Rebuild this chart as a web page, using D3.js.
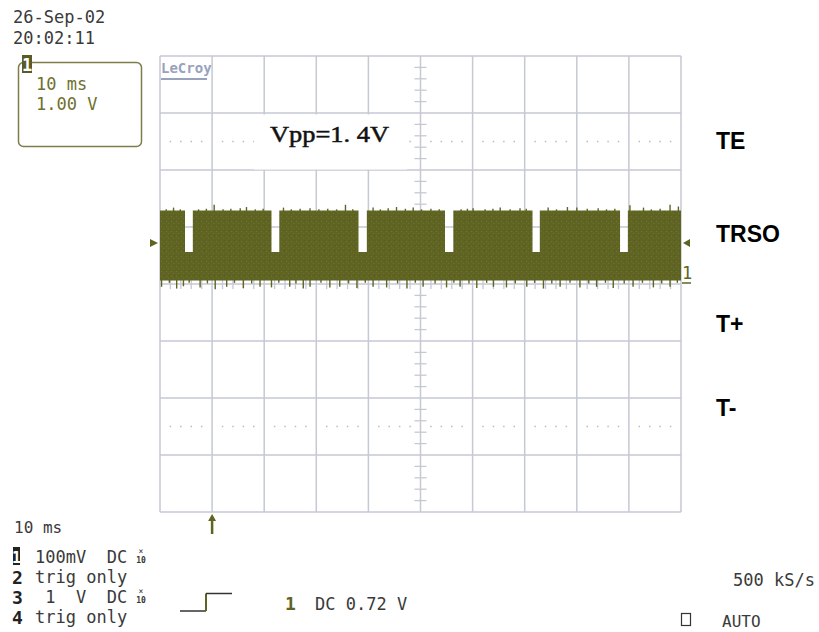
<!DOCTYPE html>
<html>
<head>
<meta charset="utf-8">
<script src="https://cdn.jsdelivr.net/npm/d3@7"></script>
<style>
  html, body { margin: 0; padding: 0; background: #fff; }
  svg { display: block; }
</style>
</head>
<body>
<svg id="chart" width="819" height="632"></svg>
<script>
// ---------- data ----------
const timeDivs = [0, 10, 20, 30, 40, 50, 60, 70, 80, 90, 100];   // ms
const voltDivs = [-4, -3, -2, -1, 0, 1, 2, 3, 4];                 // V
const dottedLevels = [2.5, -2.5];
const gapStarts = [4.8, 21.4, 38.1, 54.7, 71.5, 88.3];            // ms
const gapEnds   = [6.3, 22.9, 39.7, 56.3, 72.9, 89.8];
const highLevel = 1.29;   // V
const gapLevel  = 0.56;
const lowLevel  = 0.06;
const triggerLevel = 0.72;
const triggerTime = 10;
const topSpikes = [[2.6,1.34],[10.4,1.39],[15.4,1.33],[16.6,1.35],[23.7,1.34],[28.8,1.33],
  [35.6,1.39],[40.9,1.34],[43.8,1.33],[45.4,1.35],[48.6,1.34],[60.1,1.33],[65.3,1.34],
  [69.1,1.33],[74.5,1.34],[78.2,1.35],[80.0,1.34],[84.1,1.33],[90.2,1.38],[92.8,1.34],
  [97.9,1.39],[99.5,1.36],
  [1.2,1.31],[3.9,1.31],[7.4,1.31],[8.9,1.32],[12.1,1.31],[13.6,1.32],[18.3,1.31],[19.8,1.32],
  [25.2,1.31],[26.9,1.32],[30.5,1.31],[32.2,1.32],[33.9,1.31],[37.0,1.31],[42.3,1.31],[47.1,1.32],
  [50.2,1.31],[52.0,1.32],[53.6,1.31],[57.8,1.31],[59.0,1.32],[62.4,1.31],[63.9,1.32],[67.2,1.31],
  [70.3,1.32],[76.1,1.31],[82.0,1.32],[85.7,1.31],[87.3,1.32],[94.3,1.31],[96.0,1.32]];
const bottomSpikes = [[0.3,-0.05],[3.2,-0.08],[4.5,-0.04],[7.7,-0.06],[10.6,-0.09],[12.8,-0.05],
  [16.0,-0.07],[19.2,-0.05],[21.4,-0.06],[24.9,-0.05],[27.5,-0.08],[28.8,-0.05],[32.6,-0.06],
  [34.5,-0.05],[37.8,-0.07],[40.9,-0.05],[43.5,-0.06],[47.4,-0.08],[50.5,-0.05],[55.0,-0.06],
  [57.6,-0.05],[60.8,-0.07],[64.0,-0.05],[66.5,-0.06],[70.4,-0.05],[73.6,-0.08],[76.8,-0.05],
  [80.6,-0.06],[83.8,-0.05],[87.0,-0.07],[90.8,-0.05],[94.7,-0.06],[97.9,-0.05],
  [1.8,0.02],[5.6,0.02],[9.1,0.01],[14.3,0.02],[17.6,0.01],[22.8,0.02],[26.1,0.01],[30.9,0.02],
  [36.2,0.01],[39.4,0.02],[45.6,0.01],[49.0,0.02],[52.8,0.01],[56.4,0.02],[59.3,0.01],[62.7,0.02],
  [68.2,0.01],[71.9,0.02],[75.2,0.01],[78.7,0.02],[82.3,0.01],[85.5,0.02],[89.1,0.01],[92.6,0.02],
  [96.3,0.01],[99.3,0.02]];
const rightLabels = [["TE", 149], ["TRSO", 242], ["T+", 332], ["T-", 416]];
const headerLines = ["26-Sep-02", "20:02:11"];
const boxLines = ["10 ms", "1.00 V"];
const channelLines = [
  ["1", "100mV  DC"], ["2", "trig only"], ["3", " 1  V  DC"], ["4", "trig only"]
];

// ---------- setup ----------
const svg = d3.select("#chart");
const pLeft = 160, pRight = 681, pTop = 56, pBottom = 512;
const x = d3.scaleLinear().domain([0, 100]).range([pLeft, pRight]);
const y = d3.scaleLinear().domain([-4, 4]).range([pBottom, pTop]);
const gridCol = "#c4c9d3";
const olive = "#5f6423";
const mono = "DejaVu Sans Mono, monospace";

svg.append("rect").attr("width", 819).attr("height", 632).attr("fill", "#fff");

// speckle texture for the trace
const defs = svg.append("defs");
const pat = defs.append("pattern").attr("id", "speckle").attr("patternUnits", "userSpaceOnUse")
  .attr("width", 5).attr("height", 5);
pat.append("rect").attr("width", 5).attr("height", 5).attr("fill", olive);
pat.append("rect").attr("x", 1).attr("y", 1).attr("width", 1).attr("height", 1).attr("fill", "#6e7433");
pat.append("rect").attr("x", 3).attr("y", 3).attr("width", 1).attr("height", 1).attr("fill", "#6a7030");
pat.append("rect").attr("x", 4).attr("y", 0).attr("width", 1).attr("height", 1).attr("fill", "#565b1e");

// grid
const grid = svg.append("g");
grid.selectAll("line.v").data(timeDivs).join("line")
  .attr("x1", d => x(d)).attr("x2", d => x(d)).attr("y1", pTop).attr("y2", pBottom)
  .attr("stroke", gridCol).attr("stroke-width", 1.5);
grid.selectAll("line.h").data(voltDivs).join("line")
  .attr("y1", d => y(d)).attr("y2", d => y(d)).attr("x1", pLeft).attr("x2", pRight)
  .attr("stroke", gridCol).attr("stroke-width", 1.5);

// center minor ticks
const minorT = d3.range(0, 100.01, 2).filter(t => t % 10 !== 0);
const minorV = d3.range(-4, 4.01, 0.2).filter(v => Math.abs(v - Math.round(v)) > 0.01);
grid.selectAll("line.mt").data(minorT).join("line")
  .attr("x1", d => x(d)).attr("x2", d => x(d)).attr("y1", y(0) - 5).attr("y2", y(0) + 5)
  .attr("stroke", gridCol).attr("stroke-width", 1.3);
grid.selectAll("line.mv").data(minorV).join("line")
  .attr("y1", d => y(d)).attr("y2", d => y(d)).attr("x1", x(50) - 6).attr("x2", x(50) + 6)
  .attr("stroke", gridCol).attr("stroke-width", 1.3);

// dotted rows
dottedLevels.forEach(lv => {
  grid.append("g").selectAll("rect").data(minorT).join("rect")
    .attr("x", d => x(d) - 0.75).attr("y", y(lv) - 0.75).attr("width", 1.5).attr("height", 1.5)
    .attr("fill", "#b8bcc6");
});

// LeCroy logo
svg.append("text").attr("x", 161).attr("y", 73).attr("font-family", mono)
  .attr("font-size", 14).attr("font-weight", "bold").attr("fill", "#98a2bc").text("LeCroy");
svg.append("line").attr("x1", 161).attr("x2", 207).attr("y1", 79).attr("y2", 79)
  .attr("stroke", "#98a2bc").attr("stroke-width", 2);

// Vpp label
svg.append("rect").attr("x", 254).attr("y", 114.5).attr("width", 153).attr("height", 55).attr("fill", "#fff");
svg.append("text").attr("x", 270).attr("y", 142).attr("font-family", "Liberation Serif, serif")
  .attr("font-size", 23).attr("fill", "#111").attr("stroke", "#111").attr("stroke-width", 0.5)
  .attr("textLength", 119).attr("lengthAdjust", "spacingAndGlyphs").text("Vpp=1. 4V");

// trace band
const upper = [{t: 0, v: highLevel}];
gapStarts.forEach((gs, i) => {
  upper.push({t: gs, v: highLevel}, {t: gs, v: gapLevel}, {t: gapEnds[i], v: gapLevel}, {t: gapEnds[i], v: highLevel});
});
upper.push({t: 100, v: highLevel});
const area = d3.area().x(d => x(d.t)).y0(y(lowLevel)).y1(d => y(d.v));
svg.append("path").attr("d", area(upper)).attr("fill", "url(#speckle)");
svg.append("g").selectAll("line").data(topSpikes).join("line")
  .attr("x1", d => x(d[0])).attr("x2", d => x(d[0])).attr("y1", y(highLevel) + 1).attr("y2", d => y(d[1]))
  .attr("stroke", olive).attr("stroke-width", 1.4);
svg.append("g").selectAll("line").data(bottomSpikes).join("line")
  .attr("x1", d => x(d[0])).attr("x2", d => x(d[0])).attr("y1", y(lowLevel) - 1).attr("y2", d => y(d[1]))
  .attr("stroke", olive).attr("stroke-width", 1.4);

// trigger level markers
const ty = y(triggerLevel);
svg.append("path").attr("d", `M150,${ty - 4}L158,${ty}L150,${ty + 4}Z`).attr("fill", olive);
svg.append("path").attr("d", `M690,${ty - 4}L683,${ty}L690,${ty + 4}Z`).attr("fill", olive);
// ground marker
svg.append("text").attr("x", 682).attr("y", 279).attr("font-family", mono).attr("font-size", 17)
  .attr("fill", olive).text("1");
svg.append("line").attr("x1", 682).attr("x2", 691).attr("y1", y(0) - 1).attr("y2", y(0) - 1)
  .attr("stroke", olive).attr("stroke-width", 1.5);

// trigger time arrow
const tx = x(triggerTime);
svg.append("path").attr("d", `M${tx - 4},${521}L${tx},${514}L${tx + 4},${521}Z`).attr("fill", olive);
svg.append("line").attr("x1", tx).attr("x2", tx).attr("y1", 518).attr("y2", 534)
  .attr("stroke", olive).attr("stroke-width", 2.5);

// right labels
svg.append("g").selectAll("text").data(rightLabels).join("text")
  .attr("x", 716).attr("y", d => d[1]).attr("font-family", "Liberation Sans, Arial, sans-serif")
  .attr("font-size", 23).attr("font-weight", "bold").attr("fill", "#000").text(d => d[0]);

// header
svg.append("g").selectAll("text").data(headerLines).join("text")
  .attr("x", 13).attr("y", (d, i) => 23 + i * 21).attr("font-family", mono).attr("font-size", 17)
  .attr("fill", "#3a3a3a").text(d => d);

// channel box
svg.append("rect").attr("x", 18.5).attr("y", 62.5).attr("width", 123).attr("height", 84).attr("rx", 5)
  .attr("fill", "none").attr("stroke", "#7d7d48").attr("stroke-width", 1.5);
svg.append("rect").attr("x", 22).attr("y", 55).attr("width", 10).attr("height", 18).attr("fill", "#5b5b28");
svg.append("text").attr("x", 27).attr("y", 71).attr("text-anchor", "middle").attr("font-family", mono)
  .attr("font-size", 17).attr("font-weight", "bold").attr("fill", "#fff").text("1");
svg.append("g").selectAll("text").data(boxLines).join("text")
  .attr("x", 36).attr("y", (d, i) => 90 + i * 20).attr("font-family", mono).attr("font-size", 17)
  .attr("fill", "#70702f").text(d => d);

// bottom info
svg.append("text").attr("x", 14).attr("y", 533).attr("font-family", mono).attr("font-size", 16)
  .attr("fill", "#3a3a3a").text("10 ms");
const chBase = [563, 583, 603, 623];
channelLines.forEach((c, i) => {
  if (i === 0) {
    svg.append("rect").attr("x", 13).attr("y", 547).attr("width", 7).attr("height", 18).attr("fill", "#222");
    svg.append("text").attr("x", 16.5).attr("y", chBase[i]).attr("text-anchor", "middle").attr("font-family", mono)
      .attr("font-size", 15).attr("font-weight", "bold").attr("fill", "#fff").text(c[0]);
  } else {
    svg.append("text").attr("x", 12).attr("y", chBase[i] + 1).attr("font-family", mono)
      .attr("font-size", 18).attr("font-weight", "bold").attr("fill", "#222").text(c[0]);
  }
  svg.append("text").attr("x", 35).attr("y", chBase[i]).attr("font-family", mono).attr("font-size", 17)
    .attr("fill", "#3a3a3a").style("white-space", "pre").text(c[1]);
  if (i === 0 || i === 2) {
    svg.append("text").attr("x", 141).attr("y", chBase[i] - 9).attr("text-anchor", "middle")
      .attr("font-family", mono).attr("font-size", 8).attr("fill", "#333").text("×");
    svg.append("text").attr("x", 141).attr("y", chBase[i]).attr("text-anchor", "middle")
      .attr("font-family", mono).attr("font-size", 8).attr("font-weight", "bold").attr("fill", "#333").text("10");
  }
});

// trigger symbol
svg.append("path").attr("d", "M180,611H206").attr("stroke", "#333").attr("stroke-width", 1.5).attr("fill", "none");
svg.append("path").attr("d", "M206,611V593.5").attr("stroke", olive).attr("stroke-width", 2).attr("fill", "none");
svg.append("path").attr("d", "M206,593.5H232").attr("stroke", "#333").attr("stroke-width", 1.5).attr("fill", "none");
svg.append("text").attr("x", 285).attr("y", 610).attr("font-family", mono).attr("font-size", 18)
  .attr("font-weight", "bold").attr("fill", olive).text("1");
svg.append("text").attr("x", 315).attr("y", 610).attr("font-family", mono).attr("font-size", 17)
  .attr("fill", "#3a3a3a").text("DC 0.72 V");

svg.append("text").attr("x", 733).attr("y", 586).attr("font-family", mono).attr("font-size", 17)
  .attr("fill", "#3a3a3a").text("500 kS/s");
svg.append("rect").attr("x", 681.5).attr("y", 613.5).attr("width", 9).attr("height", 12)
  .attr("fill", "none").attr("stroke", "#333").attr("stroke-width", 1.2);
svg.append("text").attr("x", 722).attr("y", 627).attr("font-family", mono).attr("font-size", 16)
  .attr("fill", "#3a3a3a").text("AUTO");
</script>
</body>
</html>
